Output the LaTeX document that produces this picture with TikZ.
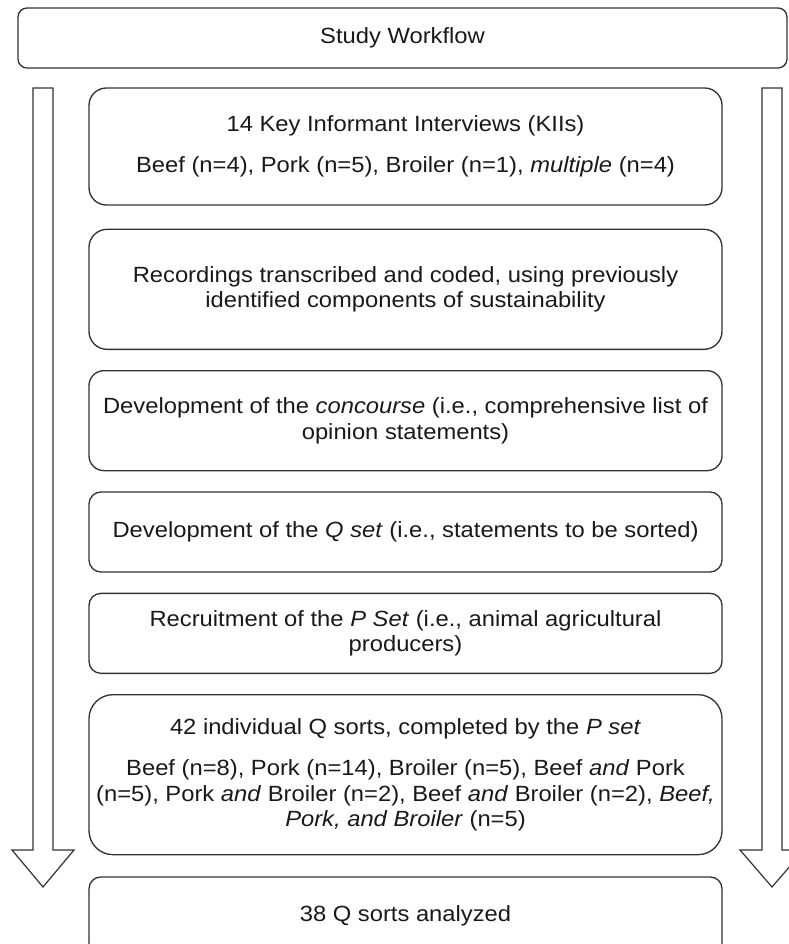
\documentclass[tikz,border=0pt]{standalone}
\usepackage{fontspec}
\setmainfont{Liberation Sans}[FakeStretch=1.08]
\usetikzlibrary{positioning}
\definecolor{linegray}{HTML}{333333}
\tikzset{stepbox/.style={draw=linegray,line width=1pt,align=center,inner sep=2pt,
    minimum width=474.75pt,minimum height=#1,text=black!90},
  flowarrow/.style={draw=linegray,line width=0.9pt,fill=white},}

\begin{document}
\begin{tikzpicture}[x=0.75pt,y=-0.75pt,font=\fontsize{16.5}{19}\selectfont]
    \useasboundingbox (0,0) rectangle (788,944);

    % side arrows
    \draw[flowarrow] (33,88) -- (53,88) -- (53,850) -- (74,850) -- (43,887) -- (12,850) -- (33,850) -- cycle;
    \draw[flowarrow] (762,88) -- (782,88) -- (782,850) -- (804,850) -- (772,887) -- (740,850) -- (762,850) -- cycle;

    \node[stepbox=45pt,minimum width=576.75pt,rounded corners=6.75pt] (title) at (402.5,38) {Study Workflow};
    \node[stepbox=87.75pt,rounded corners=13pt] (kii) at (405.5,146.5)
        {14 Key Informant Interviews (KIIs)\\[12pt]Beef (n=4), Pork (n=5), Broiler (n=1), \textit{multiple} (n=4)};
    \node[stepbox=90pt,rounded corners=13.5pt] (coding) [below=17.25pt of kii]
        {Recordings transcribed and coded, using previously\\identified components of sustainability};
    \node[stepbox=75pt,rounded corners=11.25pt] (concourse) [below=15pt of coding]
        {Development of the \textit{concourse} (i.e., comprehensive list of\\opinion statements)};
    \node[stepbox=60pt,rounded corners=9pt] (qset) [below=15pt of concourse]
        {Development of the \textit{Q set} (i.e., statements to be sorted)};
    \node[stepbox=60pt,rounded corners=9pt] (pset) [below=15pt of qset]
        {Recruitment of the \textit{P Set} (i.e., animal agricultural\\producers)};
    \node[stepbox=120pt,rounded corners=18pt] (qsorts) [below=15pt of pset]
        {42 individual Q sorts, completed by the \textit{P set}\\[12pt]Beef (n=8), Pork (n=14), Broiler (n=5), Beef \textit{and} Pork\\(n=5), Pork \textit{and} Broiler (n=2), Beef \textit{and} Broiler (n=2), \textit{Beef,}\\\textit{Pork, and Broiler} (n=5)};
    \node[stepbox=58.5pt,rounded corners=8.75pt] (analysis) [below=15.75pt of qsorts] {38 Q sorts analyzed};
\end{tikzpicture}
\end{document}
